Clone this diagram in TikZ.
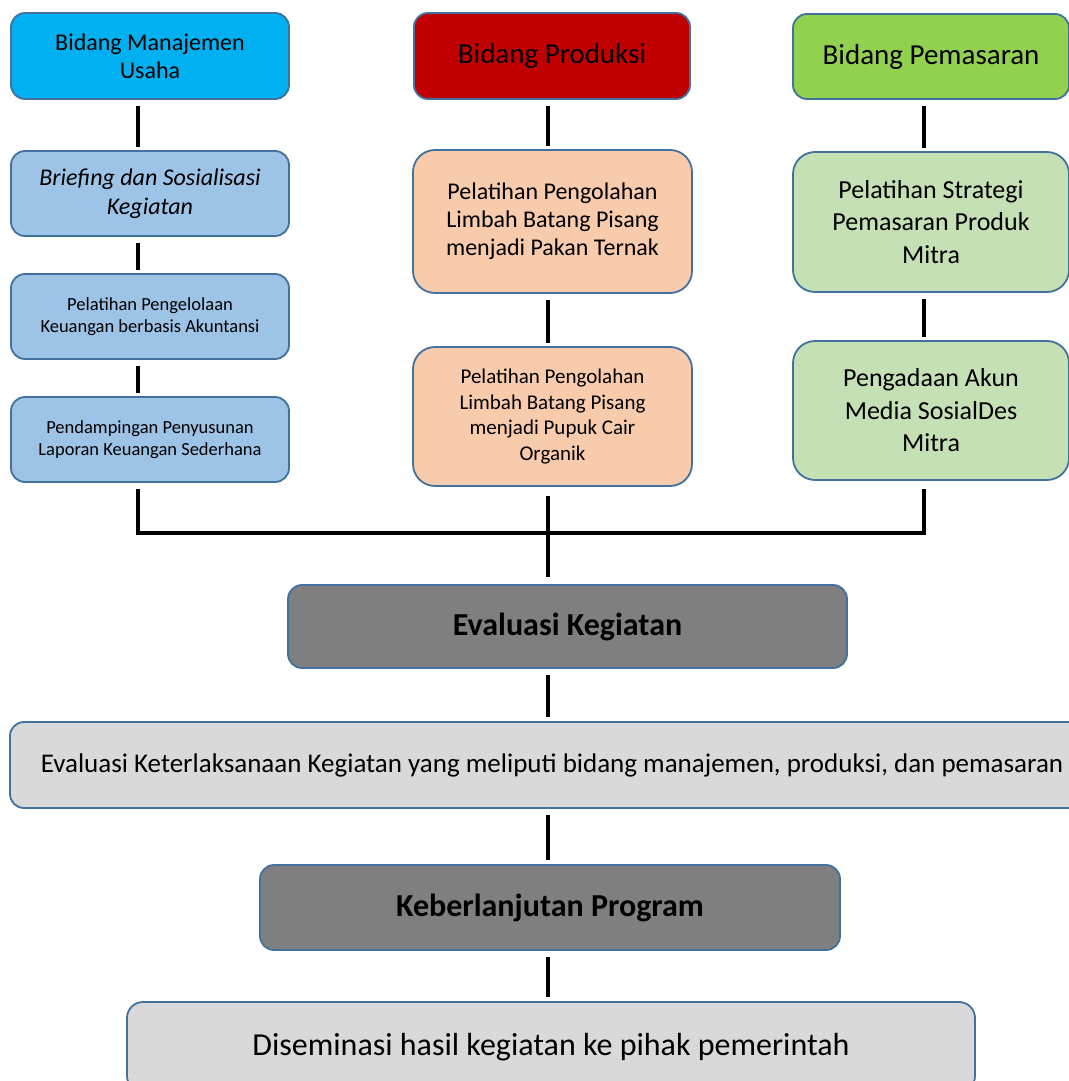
\documentclass[tikz,border=0pt]{standalone}
\usepackage{fontspec}
\setmainfont{Carlito}
\definecolor{edge}{RGB}{65,113,156}
\definecolor{mgmtdark}{RGB}{0,176,240}
\definecolor{mgmtlight}{RGB}{157,195,230}
\definecolor{proddark}{RGB}{192,0,0}
\definecolor{prodlight}{RGB}{248,203,173}
\definecolor{mktdark}{RGB}{146,208,80}
\definecolor{mktlight}{RGB}{197,224,180}
\definecolor{evaldark}{RGB}{127,127,127}
\definecolor{evallight}{RGB}{217,217,217}
\begin{document}
\begin{tikzpicture}[x=1pt,y=-1pt,
    box/.style={rectangle,draw=edge,line width=1.8pt,align=center,inner sep=0pt,rounded corners=14pt},
    link/.style={line width=3.6pt,shorten <=6pt,shorten >=3pt}]
    \useasboundingbox (0,0) rectangle (1068,1081);
    %columns
    \coordinate (cL) at (138,0);
    \coordinate (cM) at (548,0);
    \coordinate (cR) at (924,0);
    \coordinate (jn) at (548,533);

    %management
    \node (M0) at (150,56) [box,fill=mgmtdark,minimum width=278,minimum height=86,font=\fontsize{24}{28}\selectfont]{Bidang Manajemen\\Usaha};
    \node (M1) at (150,193.5) [box,fill=mgmtlight,minimum width=278,minimum height=85,font=\fontsize{24}{29}\selectfont\itshape]{Briefing dan Sosialisasi\\Kegiatan};
    \node (M2) at (150,316.5) [box,fill=mgmtlight,minimum width=278,minimum height=85,font=\fontsize{18.5}{22}\selectfont]{Pelatihan Pengelolaan\\Keuangan berbasis Akuntansi};
    \node (M3) at (150,439.5) [box,fill=mgmtlight,minimum width=278,minimum height=85,font=\fontsize{18.5}{22}\selectfont]{Pendampingan Penyusunan\\Laporan Keuangan Sederhana};

    %production
    \node (P0) at (552,56) [box,fill=proddark,minimum width=276,minimum height=86,font=\fontsize{29}{34}\selectfont]{Bidang Produksi};
    \node (P1) at (552.5,221.5) [box,fill=prodlight,minimum width=279,minimum height=143,rounded corners=22pt,font=\fontsize{24}{28}\selectfont]{Pelatihan Pengolahan\\Limbah Batang Pisang\\menjadi Pakan Ternak};
    \node (P2) at (552.5,416.5) [box,fill=prodlight,minimum width=279,minimum height=139,rounded corners=22pt,font=\fontsize{21}{25.5}\selectfont]{Pelatihan Pengolahan\\Limbah Batang Pisang\\menjadi Pupuk Cair\\Organik};

    %marketing
    \node (K0) at (931,56.5) [box,fill=mktdark,minimum width=276,minimum height=85,font=\fontsize{29}{34}\selectfont]{Bidang Pemasaran};
    \node (K1) at (931,222) [box,fill=mktlight,minimum width=276,minimum height=140,rounded corners=22pt,font=\fontsize{26}{32.5}\selectfont]{Pelatihan Strategi\\Pemasaran Produk\\Mitra};
    \node (K2) at (931,410.5) [box,fill=mktlight,minimum width=276,minimum height=139,rounded corners=22pt,font=\fontsize{26}{32.5}\selectfont]{Pengadaan Akun\\Media SosialDes\\Mitra};

    %evaluation
    \node (E0) at (567.5,626.5) [box,fill=evaldark,minimum width=559,minimum height=83,font=\fontsize{32}{38}\selectfont\bfseries]{Evaluasi Kegiatan};
    \node (E1) at (552,765) [box,fill=evallight,minimum width=1084,minimum height=86,font=\fontsize{27}{32}\selectfont]{Evaluasi Keterlaksanaan Kegiatan yang meliputi bidang manajemen, produksi, dan pemasaran};
    \node (S0) at (550,907.5) [box,fill=evaldark,minimum width=580,minimum height=85,font=\fontsize{32}{38}\selectfont\bfseries]{Keberlanjutan Program};
    \node (S1) at (551,1047) [box,fill=evallight,minimum width=848,minimum height=90,rounded corners=16pt,font=\fontsize{32}{38}\selectfont]{Diseminasi hasil kegiatan ke pihak pemerintah};

    \draw [link] (M0.south -| cL) -- (M1.north -| cL);
    \draw [link] (M1.south -| cL) -- (M2.north -| cL);
    \draw [link] (M2.south -| cL) -- (M3.north -| cL);
    \draw [link] (P0.south -| cM) -- (P1.north -| cM);
    \draw [link] (P1.south -| cM) -- (P2.north -| cM);
    \draw [link] (K0.south -| cR) -- (K1.north -| cR);
    \draw [link] (K1.south -| cR) -- (K2.north -| cR);
    \draw [link,shorten >=8pt] (M3.south -| cL) |- (jn) -| (K2.south -| cR);
    \draw [link,shorten <=9pt,shorten >=7pt] (P2.south -| cM) -- (E0.north -| cM);
    \draw [link,shorten >=4pt] (E0.south -| cM) -- (E1.north -| cM);
    \draw [link,shorten >=4pt] (E1.south -| cM) -- (S0.north -| cM);
    \draw [link,shorten >=4pt] (S0.south -| cM) -- (S1.north -| cM);
\end{tikzpicture}
\end{document}
